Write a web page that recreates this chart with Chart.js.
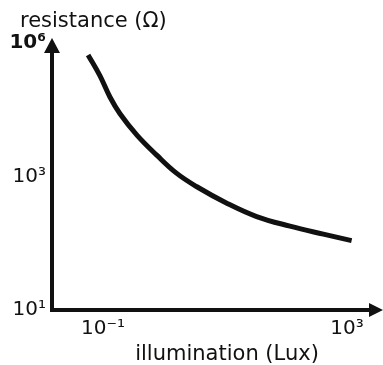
<!DOCTYPE html>
<html>
<head>
<meta charset="utf-8">
<script src="https://cdn.jsdelivr.net/npm/chart.js@4"></script>
<style>
    body { margin: 0; background: #fff; }
    canvas { display: block; }
</style>
</head>
<body>
<canvas id="ldrChart" width="383" height="365"></canvas>
<script>
// illumination in lux, resistance as steps on the (schematic) resistance axis
const illumination = [0.057, 0.089, 0.13, 0.19, 0.36, 0.76, 1.6, 3.4, 10.7, 33, 116, 409, 1190];
const resistanceLevel = [1.91, 1.755, 1.595, 1.47, 1.31, 1.16, 1.025, 0.925, 0.80, 0.70, 0.628, 0.568, 0.52];

const xTickValues = [0.1, 1000];
const xTickLabels = ["10\u207B\u00B9", "10\u00B3"];
const yTickValues = [0, 1, 2];
const yTickLabels = ["10\u00B9", "10\u00B3", "10\u2076"];

const yTitle = "resistance (\u03A9)";
const xTitle = "illumination (Lux)";

const points = illumination.map(function(x, i) {
    return {x: x, y: resistanceLevel[i]};
});

const ink = "#111";

// axes with arrow heads plus the two axis captions
const arrowAxes = {
    id: 'arrowAxes',
    afterDraw: function(chart) {
        var ctx = chart.ctx;
        var a = chart.chartArea;
        ctx.save();
        ctx.strokeStyle = ink;
        ctx.fillStyle = ink;
        ctx.lineWidth = 4;

        ctx.beginPath();
        ctx.moveTo(a.left, a.bottom + 2);
        ctx.lineTo(a.left, a.top + 12);
        ctx.moveTo(a.left - 2, a.bottom);
        ctx.lineTo(a.right - 10, a.bottom);
        ctx.stroke();

        ctx.beginPath();
        ctx.moveTo(a.left, a.top);
        ctx.lineTo(a.left - 8, a.top + 15);
        ctx.lineTo(a.left + 8, a.top + 15);
        ctx.closePath();
        ctx.fill();

        ctx.beginPath();
        ctx.moveTo(a.right, a.bottom);
        ctx.lineTo(a.right - 14, a.bottom - 7);
        ctx.lineTo(a.right - 14, a.bottom + 7);
        ctx.closePath();
        ctx.fill();

        ctx.font = "21px 'DejaVu Sans'";
        ctx.textBaseline = "alphabetic";
        ctx.textAlign = "left";
        ctx.fillText(yTitle, 20, 27);
        ctx.textAlign = "center";
        ctx.fillText(xTitle, 227, 360);
        ctx.restore();
    }
};

const config = {
    type: 'line',
    data: {
        datasets: [{
            data: points,
            borderColor: ink,
            borderWidth: 5,
            pointRadius: 0,
            tension: 0.4,
            fill: false,
        }],
    },
    options: {
        responsive: false,
        devicePixelRatio: 1,
        animation: false,
        layout: {
            padding: {top: 38, right: 0, left: 0, bottom: 0},
        },
        plugins: {
            legend: {display: false},
            tooltip: {enabled: false},
        },
        scales: {
            x: {
                type: 'logarithmic',
                min: 0.0146,
                max: 3890,
                grid: {display: false, drawTicks: false},
                border: {display: false},
                afterBuildTicks: function(scale) {
                    scale.ticks = xTickValues.map(function(v) { return {value: v}; });
                },
                afterFit: function(scale) { scale.height = 55; },
                ticks: {
                    autoSkip: false,
                    maxRotation: 0,
                    padding: 7,
                    color: ink,
                    font: {family: "'DejaVu Sans'", size: 20},
                    callback: function(value, index) { return xTickLabels[index]; },
                },
            },
            y: {
                type: 'linear',
                min: 0,
                max: 2.037,
                grid: {display: false, drawTicks: false},
                border: {display: false},
                afterBuildTicks: function(scale) {
                    scale.ticks = yTickValues.map(function(v) { return {value: v}; });
                },
                afterFit: function(scale) { scale.width = 52; },
                ticks: {
                    autoSkip: false,
                    padding: 6,
                    color: ink,
                    font: function(c) {
                        return {family: "'DejaVu Sans'", size: 20, weight: c.index == 2 ? 'bold' : 'normal'};
                    },
                    callback: function(value, index) { return yTickLabels[index]; },
                },
            },
        },
    },
    plugins: [arrowAxes],
};

const myChart = new Chart(
    document.getElementById('ldrChart'),
    config,
);
</script>
</body>
</html>
